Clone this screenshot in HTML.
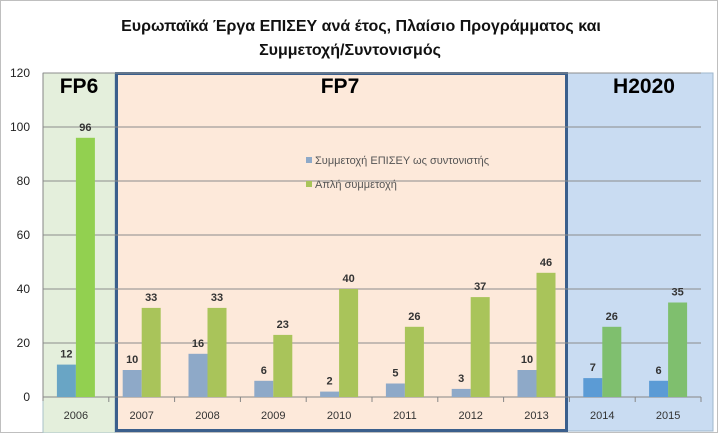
<!DOCTYPE html>
<html><head><meta charset="utf-8"><style>
body{margin:0;background:#fff;}
svg{display:block;font-family:"Liberation Sans","DejaVu Sans",sans-serif;}
</style></head><body>
<svg id="chart" width="718" height="433" viewBox="0 0 718 433" xmlns="http://www.w3.org/2000/svg">
<rect x="0.5" y="0.5" width="717" height="432" fill="#fff" stroke="#bfbfbf"/>
<text x="361" y="31" text-anchor="middle" font-size="16" font-weight="bold" fill="#111">Ευρωπαϊκά Έργα ΕΠΙΣΕΥ ανά έτος, Πλαίσιο Προγράμματος και</text>
<text x="350" y="55" text-anchor="middle" font-size="16" font-weight="bold" fill="#111">Συμμετοχή/Συντονισμός</text>
<rect x="43" y="73" width="72" height="360" fill="#e4efdc" stroke="#a9c2c8"/>
<rect x="567" y="73" width="146" height="358" fill="#c9dcf2" stroke="#9fb7cc"/>
<rect x="116.5" y="73.5" width="450" height="357" fill="#fde9da" stroke="#3b5f8c" stroke-width="3"/>
<g id="grid"></g><g id="bars"></g><g id="axes"></g>
<text x="79" y="93" text-anchor="middle" font-size="21" font-weight="bold" fill="#000">FP6</text>
<text x="340" y="93" text-anchor="middle" font-size="21" font-weight="bold" fill="#000">FP7</text>
<text x="644" y="93" text-anchor="middle" font-size="21" font-weight="bold" fill="#000">H2020</text>
<g>
<rect x="306" y="157" width="6" height="6" fill="#8ea9c8"/>
<text x="315" y="164" font-size="11" fill="#555">Συμμετοχή ΕΠΙΣΕΥ ως συντονιστής</text>
<rect x="306" y="181" width="6" height="6" fill="#a9c45a"/>
<text x="315" y="188" font-size="11" fill="#555">Απλή συμμετοχή</text>
</g>
</svg>
<script>
const categories=["2006","2007","2008","2009","2010","2011","2012","2013","2014","2015"];
const coordValues=[12,10,16,6,2,5,3,10,7,6];
const partValues=[96,33,33,23,40,26,37,46,26,35];
const yTicks=[0,20,40,60,80,100,120];
const NS="http://www.w3.org/2000/svg";
const x0=43,x1=701,y0=397,yTop=73,yMax=120;
const bw=(x1-x0)/categories.length;
function y(v){return y0-(v/yMax)*(y0-yTop);}
function xc(i){return x0+bw*(i+0.5);}
function mk(tag,attrs,parent){const e=document.createElementNS(NS,tag);for(const k in attrs)e.setAttribute(k,attrs[k]);document.getElementById(parent).appendChild(e);return e;}
function colors(i){if(i===0)return["#69a5c5","#92d050"];if(i<8)return["#8ea9c8","#a9c45a"];return["#5b9bd5","#7fbf6e"];}
yTicks.forEach(t=>{
 const l=mk('line',{x1:x0,x2:x1,y1:y(t),y2:y(t),stroke:t===0?'#868686':'#8c8c8c','stroke-width':1},'grid');
 
 
 const tx=mk('text',{x:30,y:y(t)+4,'text-anchor':'end','font-size':12,fill:'#222'},'axes');
 tx.textContent=t;
 
 
});
const ax=mk('line',{x1:x0,x2:x0,y1:yTop,y2:y0+4,stroke:'#868686'},'axes');


categories.forEach((c,i)=>{
 const [cb,cg]=colors(i);const w=19;
 const b1=mk('rect',{x:xc(i)-w,y:y(coordValues[i]),width:w,height:y0-y(coordValues[i]),fill:cb},'bars');
 
 
 const b2=mk('rect',{x:xc(i),y:y(partValues[i]),width:w,height:y0-y(partValues[i]),fill:cg},'bars');
 
 
 const t1=mk('text',{x:xc(i)-w/2,y:y(coordValues[i])-7,'text-anchor':'middle','font-size':11,'font-weight':'bold',fill:'#333'},'bars');
 t1.textContent=coordValues[i];
 
 
 const t2=mk('text',{x:xc(i)+w/2,y:y(partValues[i])-7,'text-anchor':'middle','font-size':11,'font-weight':'bold',fill:'#333'},'bars');
 t2.textContent=partValues[i];
 
 
 const xl=mk('text',{x:xc(i),y:419,'text-anchor':'middle','font-size':11,fill:'#333'},'axes');
 xl.textContent=c;
 
 
 const tk=mk('line',{x1:x0+bw*(i+1),x2:x0+bw*(i+1),y1:y0,y2:y0+5,stroke:'#868686'},'axes');
 
 
});
</script>
</body></html>
